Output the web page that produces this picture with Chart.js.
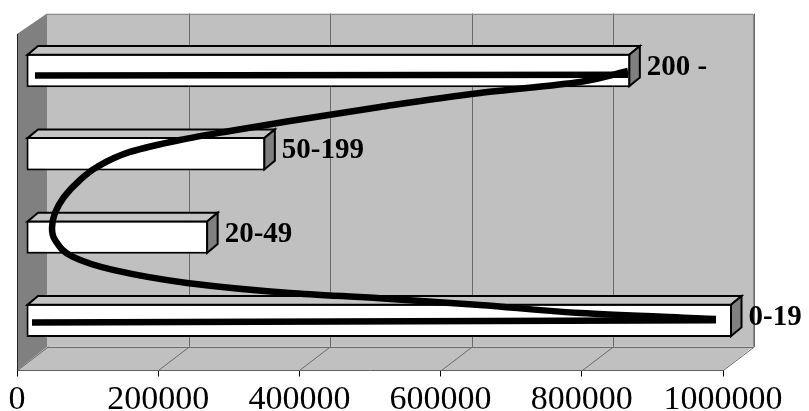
<!DOCTYPE html>
<html><head><meta charset="utf-8">
<script src="https://cdn.jsdelivr.net/npm/chart.js@4.4.1/dist/chart.umd.min.js"></script>
<style>html,body{margin:0;padding:0;background:#fff;}canvas{display:block;}</style>
</head><body>
<canvas id="c" width="809" height="411"></canvas>
<script>
// ---- data ----
const categories = ['200 -', '50-199', '20-49', '0-19'];
const values = [856000, 339000, 258000, 1000000];
const xTicks = [0, 200000, 400000, 600000, 800000, 1000000];
// thick black arrow path (x in value units, y in category-index units)
const topLineX = [12700, 852700];
const topLineY = [0.06, 0.05];
const curveX = [852700, 784700, 643100, 501400, 373900, 289000, 218100, 147300, 100600, 76500, 53800, 41100, 36800, 41100, 66600, 123200, 228000, 373900, 501400, 643100, 784700, 977300];
const curveY = [0.006, 0.138, 0.270, 0.438, 0.606, 0.726, 0.834, 0.978, 1.158, 1.314, 1.518, 1.710, 1.890, 2.034, 2.238, 2.394, 2.550, 2.670, 2.734, 2.814, 2.910, 2.982];
const bottomLineX = [977300, 8500];
const bottomLineY = [2.998, 3.024];

// ---- 3D look ----
const DEPTH = {x: 30, y: -23.7};   // floor / wall depth
const PLANE = {x: 9, y: -8.4};     // plane where bars sit
const BOX = {x: 10.5, y: -8.7};    // depth of each bar
const SERIF = '"Liberation Serif","Times New Roman",serif';

const pts = (xs, ys) => xs.map((x, i) => ({x, y: ys[i]}));

const scene = {
  id: 'scene',
  beforeDatasetsDraw(chart) {
    const {ctx, chartArea: a, scales} = chart;
    const xs = scales.x;
    const x0 = xs.getPixelForValue(0), x1 = xs.getPixelForValue(1000000);
    const fb = a.bottom;
    const bt = a.top + DEPTH.y, bb = fb + DEPTH.y;
    const bx0 = x0 + DEPTH.x, bx1 = x1 + DEPTH.x;
    ctx.save();
    ctx.fillStyle = '#c0c0c0';
    ctx.fillRect(bx0, bt, bx1 - bx0, bb - bt);
    ctx.beginPath();
    ctx.moveTo(x0, fb); ctx.lineTo(x1, fb); ctx.lineTo(bx1, bb); ctx.lineTo(bx0, bb); ctx.closePath();
    ctx.fill();
    ctx.fillStyle = '#808080';
    ctx.beginPath();
    ctx.moveTo(x0, bt + 20.5); ctx.lineTo(bx0, bt); ctx.lineTo(bx0, bb); ctx.lineTo(x0, fb); ctx.closePath();
    ctx.fill();
    ctx.strokeStyle = '#6a6a6a';
    ctx.lineWidth = 1;
    xTicks.forEach(v => {
      const p = Math.round(xs.getPixelForValue(v)) + 0.5;
      const bp = Math.round(p + DEPTH.x) + 0.5;
      ctx.beginPath();
      if (v > 0) { ctx.moveTo(bp, bt); ctx.lineTo(bp, bb); }
      ctx.moveTo(bp, bb); ctx.lineTo(p, fb);
      ctx.stroke();
    });
    ctx.beginPath(); ctx.moveTo(bx0, Math.round(bb) + 0.5); ctx.lineTo(bx1, Math.round(bb) + 0.5); ctx.stroke();
    ctx.strokeStyle = '#8a8a8a';
    ctx.beginPath();
    ctx.moveTo(bx0, Math.round(bt) + 0.5); ctx.lineTo(Math.round(bx1) + 0.5, Math.round(bt) + 0.5); ctx.lineTo(Math.round(bx1) + 0.5, bb);
    ctx.stroke();
    ctx.strokeStyle = '#222';
    ctx.beginPath();
    ctx.moveTo(Math.round(x0) + 0.5, bt + 20.5); ctx.lineTo(Math.round(x0) + 0.5, fb);
    ctx.stroke();
    ctx.restore();
    ctx.save();
    ctx.translate(PLANE.x, PLANE.y);
  },
  afterDatasetDraw(chart, args) {
    if (args.index !== 0) return;
    const ctx = chart.ctx;
    ctx.save();
    ctx.lineWidth = 2;
    ctx.strokeStyle = '#000';
    ctx.lineJoin = 'miter';
    args.meta.data.forEach((el, i) => {
      const {x, y, base, height} = el.getProps(['x', 'y', 'base', 'height'], true);
      const l = base + 1, r = x - 1, t = y - height / 2 + 1, b = y + height / 2 - 1;
      ctx.fillStyle = '#c4c4c4';
      ctx.beginPath();
      ctx.moveTo(l, t); ctx.lineTo(l + BOX.x, t + BOX.y); ctx.lineTo(r + BOX.x, t + BOX.y); ctx.lineTo(r, t); ctx.closePath();
      ctx.fill(); ctx.stroke();
      ctx.fillStyle = '#808080';
      ctx.beginPath();
      ctx.moveTo(r, t); ctx.lineTo(r + BOX.x, t + BOX.y); ctx.lineTo(r + BOX.x, b + BOX.y); ctx.lineTo(r, b); ctx.closePath();
      ctx.fill(); ctx.stroke();
      ctx.fillStyle = '#000';
      ctx.font = 'bold 29px ' + SERIF;
      ctx.textBaseline = 'middle';
      ctx.textAlign = 'left';
      ctx.fillText(categories[i], r + BOX.x + 7, y - 3);
    });
    ctx.restore();
  },
  afterDatasetsDraw(chart) {
    chart.ctx.restore();
  }
};

const lineStyle = {
  type: 'line', xAxisID: 'x', yAxisID: 'yl', borderColor: '#000', borderWidth: 6.5,
  pointRadius: 0, fill: false, clip: false, order: 1, borderCapStyle: 'butt', borderJoinStyle: 'round'
};

new Chart(document.getElementById('c'), {
  data: {
    labels: categories,
    datasets: [
      {
        type: 'bar', indexAxis: 'y', data: values, xAxisID: 'x', yAxisID: 'y',
        backgroundColor: '#ffffff', borderColor: '#000', borderWidth: 2, borderSkipped: false,
        categoryPercentage: 1, barPercentage: 0.4, clip: false, order: 3
      },
      Object.assign({}, lineStyle, {data: pts(topLineX, topLineY), tension: 0}),
      Object.assign({}, lineStyle, {data: pts(curveX, curveY), indexAxis: 'y', cubicInterpolationMode: 'monotone'}),
      Object.assign({}, lineStyle, {data: pts(bottomLineX, bottomLineY), tension: 0})
    ]
  },
  options: {
    responsive: false,
    animation: false,
    events: [],
    layout: {padding: {top: 37.2, left: 17, right: 86, bottom: 0}},
    plugins: {legend: {display: false}, tooltip: {enabled: false}},
    scales: {
      x: {
        type: 'linear', position: 'bottom', min: 0, max: 1000000,
        afterBuildTicks: s => { s.ticks = xTicks.map(v => ({value: v})); },
        afterFit: s => { s.height = 40.5; },
        ticks: {
          font: {family: SERIF, size: 34}, color: '#000', padding: 3,
          maxRotation: 0, autoSkip: false, callback: v => String(v)
        },
        grid: {display: true, drawOnChartArea: false, drawTicks: true, tickLength: 6, color: '#000'},
        border: {display: true, color: '#000'}
      },
      y: {type: 'category', labels: categories, display: false, offset: true},
      yl: {type: 'linear', axis: 'y', display: false, reverse: true, min: -0.5, max: 3.5}
    }
  },
  plugins: [scene]
});
</script>
</body></html>
